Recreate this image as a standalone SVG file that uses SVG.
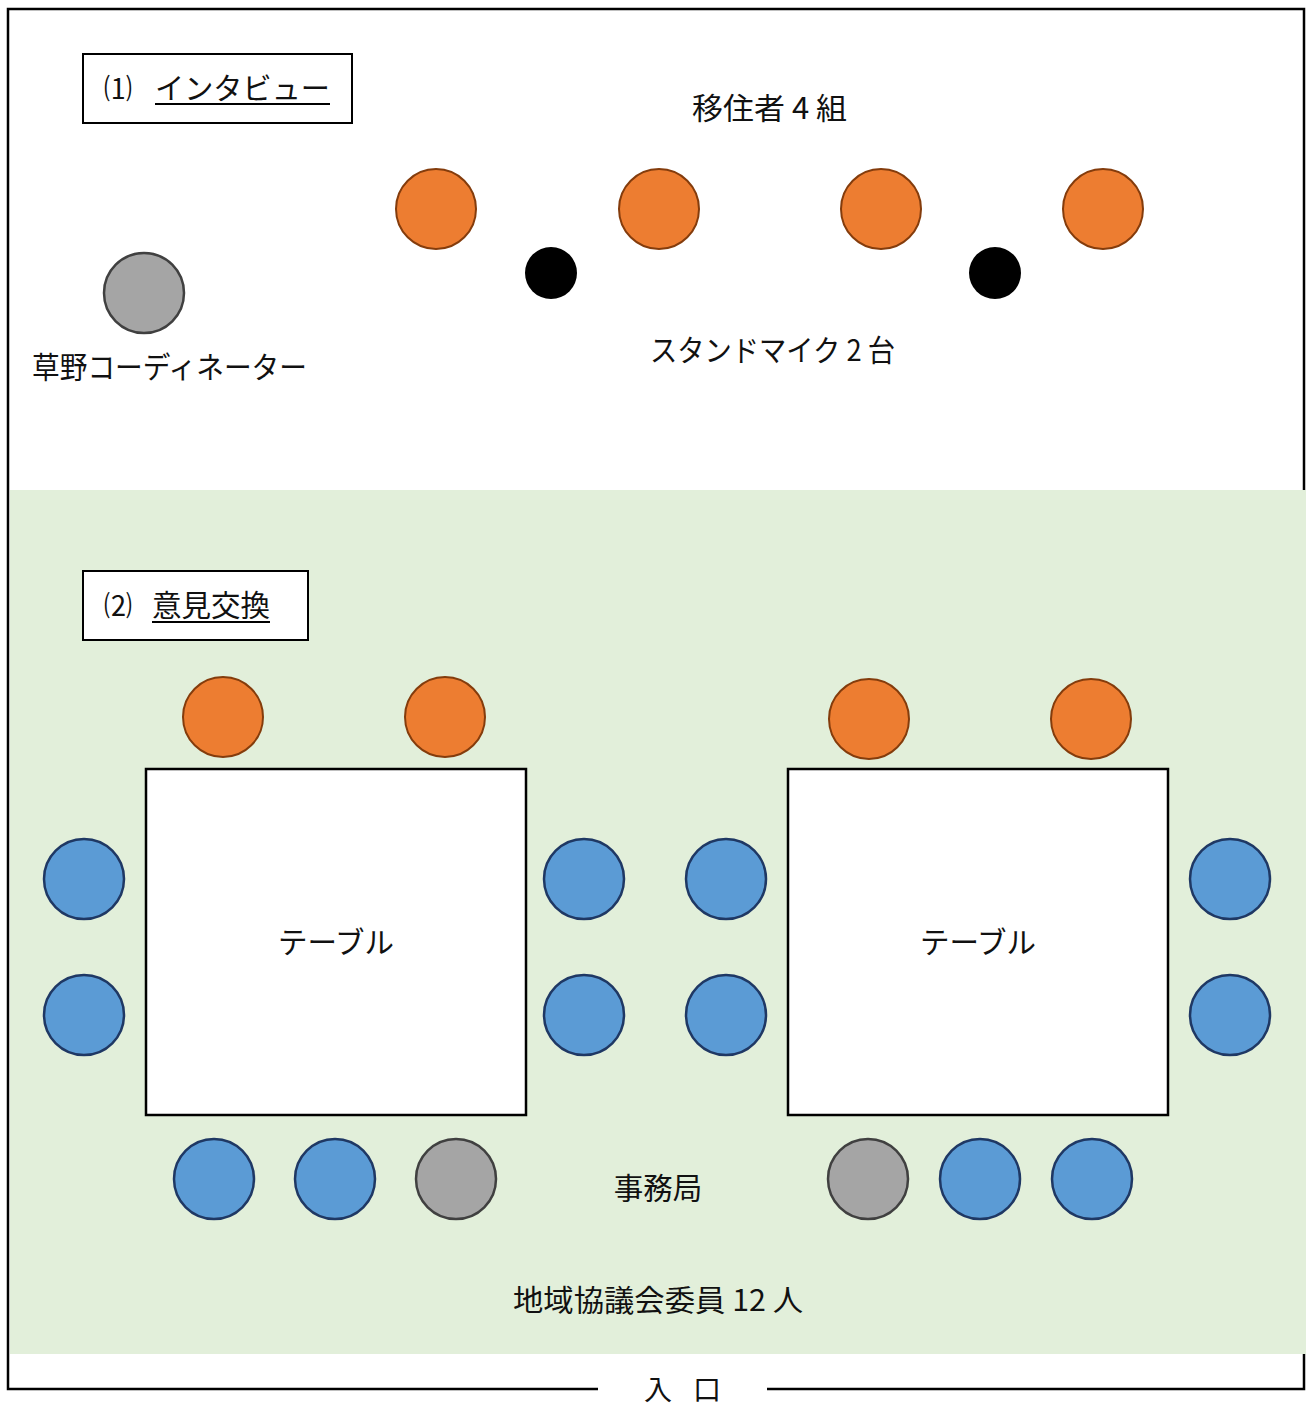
<svg xmlns="http://www.w3.org/2000/svg" width="1306" height="1407" viewBox="0 0 1306 1407">
<style>
text{font-family:"Noto Sans CJK JP","Noto Sans",sans-serif;font-size:29.5px;fill:#111}
.m{text-anchor:middle}
.or{fill:#ED7D31;stroke:#843C0C;stroke-width:2}
.bl{fill:#5B9BD5;stroke:#1F3864;stroke-width:2.5}
.gr{fill:#A5A5A5;stroke:#404040;stroke-width:2.5}
.mic{fill:#000}
.tbl{fill:#fff;stroke:#000;stroke-width:2.5}
.lbl{fill:#fff;stroke:#000;stroke-width:2}
.frame{fill:none;stroke:#000;stroke-width:2.5}
</style>
<rect width="1306" height="1407" fill="#fff"/>
<g id="frame">
<polyline class="frame" points="598,1389 8,1389 8,9 1304,9 1304,1389 767,1389"/>
</g>
<rect id="zone2" x="10" y="490" width="1296" height="864" fill="#E2EFDA"/>
<g id="label1">
<rect class="lbl" x="83" y="54" width="269" height="69"/>
<text x="104" y="99" style="font-size:28px">⑴</text>
<text x="155" y="99" textLength="175" lengthAdjust="spacingAndGlyphs">インタビュー</text>
<line x1="155" y1="104" x2="330" y2="104" stroke="#000" stroke-width="2"/>
</g>
<g id="label2">
<rect class="lbl" x="83" y="571" width="225" height="69"/>
<text x="104" y="616" style="font-size:28px">⑵</text>
<text x="152" y="616" textLength="118" lengthAdjust="spacingAndGlyphs">意見交換</text>
<line x1="152" y1="622" x2="270" y2="622" stroke="#000" stroke-width="2"/>
</g>
<g id="interview">
<text x="692" y="119" textLength="155" lengthAdjust="spacingAndGlyphs">移住者 4 組</text>
<circle class="or" cx="436" cy="209" r="40"/>
<circle class="or" cx="659" cy="209" r="40"/>
<circle class="or" cx="881" cy="209" r="40"/>
<circle class="or" cx="1103" cy="209" r="40"/>
<circle class="mic" cx="551" cy="273" r="26"/>
<circle class="mic" cx="995" cy="273" r="26"/>
<text x="650" y="361" textLength="245" lengthAdjust="spacingAndGlyphs">スタンドマイク 2 台</text>
<circle class="gr" cx="144" cy="293" r="40"/>
<text x="32" y="378" textLength="275" lengthAdjust="spacingAndGlyphs">草野コーディネーター</text>
</g>
<g id="table1">
<rect class="tbl" x="146" y="769" width="380" height="346"/>
<text class="m" x="336" y="953">テーブル</text>
</g>
<g id="table2">
<rect class="tbl" x="788" y="769" width="380" height="346"/>
<text class="m" x="978" y="953">テーブル</text>
</g>
<g id="seats">
<circle class="or" cx="223" cy="717" r="40"/>
<circle class="or" cx="445" cy="717" r="40"/>
<circle class="or" cx="869" cy="719" r="40"/>
<circle class="or" cx="1091" cy="719" r="40"/>
<circle class="bl" cx="84" cy="879" r="40"/>
<circle class="bl" cx="84" cy="1015" r="40"/>
<circle class="bl" cx="584" cy="879" r="40"/>
<circle class="bl" cx="584" cy="1015" r="40"/>
<circle class="bl" cx="726" cy="879" r="40"/>
<circle class="bl" cx="726" cy="1015" r="40"/>
<circle class="bl" cx="1230" cy="879" r="40"/>
<circle class="bl" cx="1230" cy="1015" r="40"/>
<circle class="bl" cx="214" cy="1179" r="40"/>
<circle class="bl" cx="335" cy="1179" r="40"/>
<circle class="gr" cx="456" cy="1179" r="40"/>
<circle class="gr" cx="868" cy="1179" r="40"/>
<circle class="bl" cx="980" cy="1179" r="40"/>
<circle class="bl" cx="1092" cy="1179" r="40"/>
</g>
<g id="labels">
<text class="m" x="658" y="1199">事務局</text>
<text x="513" y="1311" textLength="290" lengthAdjust="spacingAndGlyphs">地域協議会委員 12 人</text>
<text class="m" x="658" y="1400" style="font-size:28px">入</text>
<text class="m" x="707" y="1400" style="font-size:28px">口</text>
</g>
</svg>
